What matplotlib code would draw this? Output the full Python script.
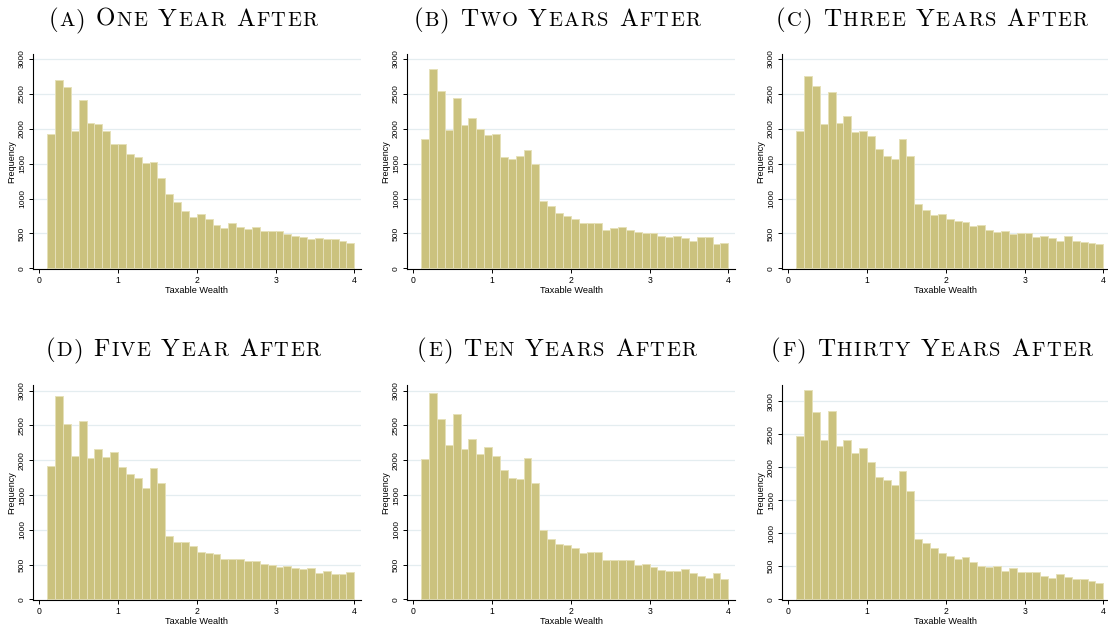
import matplotlib
matplotlib.use("Agg")
import matplotlib.pyplot as plt
import numpy as np

# ---------------- data ----------------
bin_width = 0.1
bin_left = [round(0.1 * i, 1) for i in range(1, 40)]   # 0.1 ... 3.9

freq_a = [1923, 2703, 2593, 1971, 2416, 2081, 2072, 1971, 1775, 1786, 1633, 1597, 1513, 1527, 1300,
          1068, 957, 828, 732, 778, 708, 622, 579, 646, 593, 560, 593, 541, 536, 536, 493, 459,
          445, 421, 431, 416, 426, 392, 364]
freq_b = [1857, 2852, 2546, 1986, 2445, 2058, 2158, 2000, 1909, 1919, 1598, 1569, 1603, 1699, 1498,
          962, 900, 794, 751, 703, 651, 651, 646, 555, 579, 593, 550, 522, 502, 502, 464, 455,
          459, 435, 392, 450, 445, 349, 364]
freq_c = [1967, 2756, 2608, 2072, 2531, 2077, 2187, 1952, 1971, 1900, 1708, 1603, 1565, 1852, 1603,
          919, 837, 770, 780, 708, 675, 670, 612, 622, 550, 522, 531, 493, 507, 507, 455, 464,
          435, 397, 464, 397, 378, 364, 354]
freq_d = [1917, 2918, 2516, 2065, 2559, 2032, 2156, 2046, 2113, 1907, 1797, 1749, 1605, 1888, 1668,
          906, 819, 819, 762, 685, 666, 652, 585, 575, 575, 551, 551, 503, 489, 470, 474, 450,
          436, 455, 383, 403, 369, 359, 393]
freq_e = [2022, 2961, 2593, 2219, 2660, 2161, 2305, 2089, 2190, 2056, 1864, 1749, 1725, 2027, 1677,
          992, 872, 791, 776, 743, 671, 680, 685, 570, 565, 561, 570, 494, 503, 470, 417, 412,
          407, 431, 379, 340, 311, 374, 297]
freq_f = [2474, 3172, 2838, 2408, 2858, 2327, 2413, 2221, 2287, 2079, 1852, 1806, 1730, 1948, 1634,
          916, 850, 774, 705, 657, 616, 636, 561, 510, 495, 510, 424, 470, 419, 419, 409, 354,
          323, 379, 333, 303, 308, 283, 242]

titles = ["(a) One Year After", "(b) Two Years After", "(c) Three Years After",
          "(d) Five Year After", "(e) Ten Years After", "(f) Thirty Years After"]
x_ticks = [0, 1, 2, 3, 4]
y_ticks = [0, 500, 1000, 1500, 2000, 2500, 3000]
x_label = "Taxable Wealth"
y_label = "Frequency"

# ---------------- figure ----------------
W, H = 1108, 626
fig = plt.figure(figsize=(W / 100, H / 100), dpi=100)
fig.patch.set_facecolor("white")

BAR_FC = "#CBC27E"
BAR_EC = "#E6E0B8"
GRID_C = "#E4EDF0"
SANS = "Liberation Sans"

series = [freq_a, freq_b, freq_c, freq_d, freq_e, freq_f]
col_left = [33, 407, 782]
col_center = [183.5, 557.5, 932.5]
row_top = [54, 385]
row_bottom = [269, 600]
row_ytop = [[3072, 3072, 3072], [3082, 3082, 3247]]
title_base = [26, 356]


def smallcaps(xc_px, base_px, text, size, ratio=0.82, track=1.4):
    renderer = fig.canvas.get_renderer()
    pieces = []
    total = 0.0
    space_px = size * 0.36 * 100 / 72
    for ch in text:
        if ch == " ":
            pieces.append((None, space_px))
            total += space_px
            continue
        small = ch.islower()
        t = fig.text(0, 0, ch.upper(), fontsize=size * (ratio if small else 1.0),
                     family="cmr10", ha="left", va="baseline")
        w = t.get_window_extent(renderer).width + track
        pieces.append((t, w))
        total += w
    x = xc_px - total / 2
    yb = 1 - base_px / H
    for t, w in pieces:
        if t is not None:
            t.set_position((x / W, yb))
        x += w


for idx, vals in enumerate(series):
    r, c = divmod(idx, 3)
    left = col_left[c]
    right = left + 328
    top, bottom = row_top[r], row_bottom[r]
    ax = fig.add_axes([left / W, 1 - bottom / H, (right - left) / W, (bottom - top) / H])
    ax.set_axisbelow(True)
    for yt in y_ticks[1:]:
        ax.axhline(yt, color=GRID_C, lw=0.9, zorder=0)
    ax.bar(bin_left, vals, width=bin_width, align="edge", color=BAR_FC,
           edgecolor=BAR_EC, linewidth=0.7, zorder=2)
    ax.set_xlim(-0.08, 4.085)
    ax.set_ylim(-10, row_ytop[r][c])
    ax.set_xticks(x_ticks)
    ax.set_yticks(y_ticks)
    ax.set_xticklabels([str(v) for v in x_ticks], fontsize=6.2, family=SANS)
    ax.set_yticklabels([str(v) for v in y_ticks], fontsize=6, family=SANS,
                       rotation=90, va="center")
    ax.tick_params(axis="both", direction="out", length=3, width=0.7, pad=2, colors="black")
    for s in ["top", "right"]:
        ax.spines[s].set_visible(False)
    for s in ["left", "bottom"]:
        ax.spines[s].set_linewidth(0.8)
        ax.spines[s].set_color("black")
    ax.set_xlabel(x_label, fontsize=6.6, family=SANS, labelpad=1)
    ax.set_ylabel(y_label, fontsize=6.5, family=SANS, labelpad=2)
    ax.set_facecolor("white")
    smallcaps(col_center[c], title_base[r], titles[idx], 18)

fig.savefig("out.png", dpi=100, facecolor="white")
